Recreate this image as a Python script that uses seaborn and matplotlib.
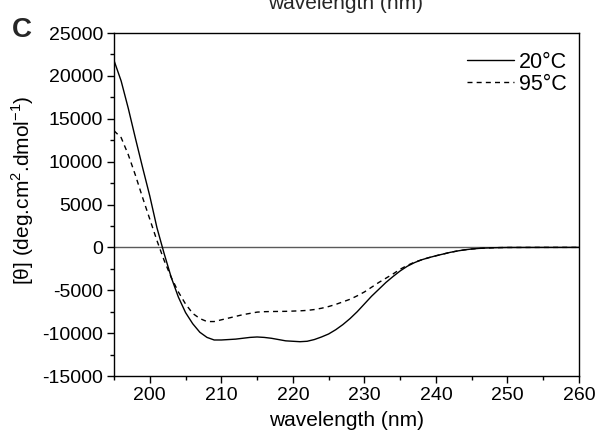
import numpy as np
import pandas as pd
import matplotlib
matplotlib.use('Agg')
import matplotlib.pyplot as plt
from matplotlib.ticker import MultipleLocator
import seaborn as sns

# CD spectra (mean residue ellipticity)
wavelength = [195, 196, 197, 198, 199, 200, 201, 202, 203, 204,
              205, 206, 207, 208, 209, 210, 211, 212, 213, 214,
              215, 216, 217, 218, 219, 220, 221, 222, 223, 224,
              225, 226, 227, 228, 229, 230, 231, 232, 233, 234,
              235, 236, 237, 238, 239, 240, 241, 242, 243, 244,
              245, 246, 247, 248, 249, 250, 255, 260]

theta_20C = [21800, 19400, 16200, 12700, 9300, 6000, 2300, -700, -3500, -5800,
             -7600, -8900, -9900, -10500, -10800, -10800, -10750, -10700, -10600, -10500,
             -10450, -10500, -10600, -10750, -10900, -10950, -11000, -10950, -10750, -10450,
             -10100, -9600, -9000, -8300, -7500, -6600, -5700, -4900, -4100, -3400,
             -2750, -2200, -1780, -1450, -1200, -980, -780, -580, -420, -290,
             -190, -120, -75, -45, -25, -12, -3, 0]

theta_95C = [13600, 12800, 10800, 8400, 5800, 3300, 800, -1500, -3500, -5200,
             -6600, -7700, -8300, -8650, -8650, -8450, -8250, -8050, -7850, -7700,
             -7550, -7500, -7480, -7470, -7460, -7430, -7400, -7350, -7250, -7100,
             -6900, -6650, -6350, -6050, -5650, -5200, -4650, -4100, -3600, -3100,
             -2550, -2100, -1730, -1450, -1200, -980, -780, -580, -420, -290,
             -190, -120, -75, -45, -25, -12, -3, 0]

series_labels = ['20°C', '95°C']

sns.set_theme(style='ticks')
plt.rcParams['font.family'] = ['Liberation Sans', 'DejaVu Sans']
plt.rcParams['mathtext.fontset'] = 'custom'
plt.rcParams['mathtext.rm'] = 'Liberation Sans'
plt.rcParams['axes.unicode_minus'] = False

fs_tick = 14
fs_lab = 15
fig = plt.figure(figsize=(5.98, 4.36), dpi=100)
ax = fig.add_axes([114 / 598, 1 - 376 / 436, 465 / 598, 343 / 436])

ax.axhline(0, color='#5a5a5a', lw=1.0, zorder=1)
sns.lineplot(x=wavelength, y=theta_20C, ax=ax, color='black', lw=1.0,
             label=series_labels[0], sort=False)
sns.lineplot(x=wavelength, y=theta_95C, ax=ax, color='black', lw=1.0,
             linestyle=(0, (3.6, 3.0)), label=series_labels[1], sort=False)

ax.set_xlim(195, 260)
ax.set_ylim(-15000, 25000)
ax.xaxis.set_major_locator(MultipleLocator(10))
ax.xaxis.set_minor_locator(MultipleLocator(5))
ax.yaxis.set_major_locator(MultipleLocator(5000))
ax.yaxis.set_minor_locator(MultipleLocator(2500))
ax.tick_params(which='major', direction='out', length=5, width=1, colors='black',
               labelsize=fs_tick, pad=3)
ax.tick_params(which='minor', direction='out', length=2.6, width=1, colors='black')
ax.tick_params(top=False, right=False, which='both')
for sp in ax.spines.values():
    sp.set_color('black')
    sp.set_linewidth(1.0)

ax.set_xlabel('wavelength (nm)', fontsize=fs_lab, color='black', labelpad=5)
ax.set_ylabel(r'[θ] (deg.cm$^{\mathregular{2}}$.dmol$^{\mathregular{-1}}$)',
              fontsize=fs_lab, color='black')
ax.yaxis.set_label_coords(-0.167, 0.542)

leg = ax.legend(loc='upper right', bbox_to_anchor=(0.974, 0.945), frameon=False,
                fontsize=15.5, handlelength=2.2, handletextpad=0.2,
                labelspacing=0.05, borderpad=0, borderaxespad=0)
for t in leg.get_texts():
    t.set_color('black')

# panel letter and the cut-off label of the panel above
fig.text(12 / 598, 1 - 37 / 436, 'C', fontsize=20, fontweight='bold',
         ha='left', va='baseline')
fig.text(346 / 598, 1 - 9 / 436, 'wavelength (nm)', fontsize=fs_lab,
         ha='center', va='baseline')

fig.savefig('out.png', dpi=100, facecolor='white')
